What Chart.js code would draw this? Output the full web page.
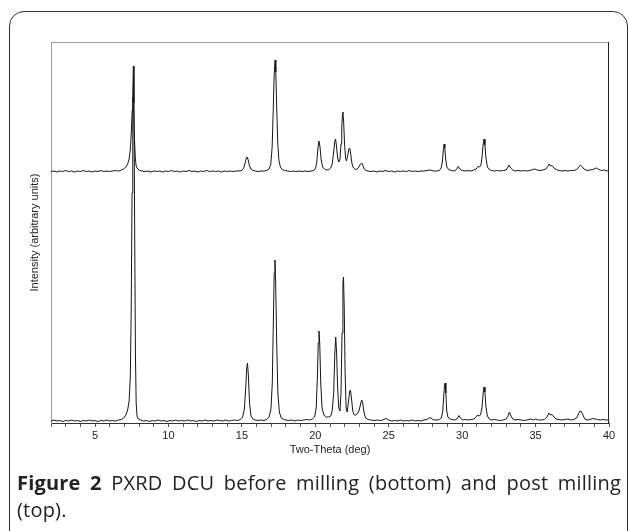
<!DOCTYPE html>
<html>
<head>
<meta charset="utf-8">
<script src="https://cdn.jsdelivr.net/npm/chart.js"></script>
<style>
  html, body { margin: 0; padding: 0; background: #fff; }
  body { width: 629px; height: 531px; position: relative; overflow: hidden; }
  #frame {
    position: absolute; left: 9px; top: 11px; width: 619px; height: 560px;
    box-sizing: border-box; border: 1.5px solid #333; border-radius: 15px;
  }
  #wrap { position: absolute; left: 0; top: 0; width: 629px; height: 470px; }
  #caption {
    position: absolute; left: 17px; top: 469px; width: 604px;
    font-family: "Open Sans", "Noto Sans", sans-serif; font-size: 20px; line-height: 27px;
    letter-spacing: 0.2px; color: #222;
  }
  #caption .l1 { text-align: justify; text-align-last: justify; white-space: nowrap; }
  #caption b { font-weight: 700; }
</style>
</head>
<body>
<div id="frame"></div>
<div id="wrap"><canvas id="pxrd" width="629" height="470"></canvas></div>
<div id="caption">
  <div class="l1"><b>Figure 2</b> PXRD DCU before milling (bottom) and post milling</div>
  <div>(top).</div>
</div>
<script>
// two-theta (deg) / intensity, before milling (bottom trace)
const beforeMilling = [
  [2.0,2],[2.2,3],[2.4,2],[2.6,2.5],[2.8,1.5],[3.0,2.5],[3.2,2],[3.4,3],[3.6,2],[3.8,2.5],
  [4.0,1.5],[4.2,2.5],[4.4,2],[4.6,3],[4.8,2],[5.0,2.5],[5.2,1.5],[5.4,2.5],[5.6,2],[5.8,3],
  [6.0,2],[6.2,2.5],[6.4,2],[6.6,3],[6.8,3.5],[6.95,5],[7.1,8],[7.22,13],[7.32,22],[7.4,45],
  [7.46,110],[7.52,230],[7.57,330],[7.61,357],[7.65,320],[7.7,190],[7.75,70],[7.8,20],[7.86,7],[7.95,4],
  [8.1,3],[8.3,2],[8.5,2.5],[8.7,1.5],[8.9,2.5],[9.1,2],[9.3,3],[9.5,2],[9.7,2.5],[9.9,1.5],
  [10.1,2.5],[10.3,2],[10.5,3],[10.7,2],[10.9,2.5],[11.1,2],[11.3,3],[11.5,2],[11.7,2.5],[11.9,1.5],
  [12.1,2.5],[12.3,2],[12.5,3],[12.7,2],[12.9,2.5],[13.1,2],[13.3,3],[13.5,2.5],[13.7,2],[13.9,3],
  [14.1,2],[14.3,2.5],[14.5,3],[14.7,2.5],[14.9,3.5],[15.05,6],[15.17,14],[15.26,35],[15.33,55],[15.38,60],
  [15.44,48],[15.52,20],[15.62,7],[15.75,4],[15.9,3],[16.1,2.5],[16.3,3],[16.5,2.5],[16.7,3.5],[16.85,6],
  [16.98,14],[17.07,40],[17.14,100],[17.2,150],[17.25,163],[17.3,140],[17.37,80],[17.45,30],[17.55,11],[17.68,5],
  [17.85,3.5],[18.0,3],[18.2,2.5],[18.4,3],[18.6,2],[18.8,3],[19.0,2.5],[19.2,3],[19.4,3.5],[19.6,3],
  [19.8,4],[19.95,6],[20.06,15],[20.14,45],[20.2,80],[20.25,92],[20.3,80],[20.37,40],[20.46,15],[20.58,8],
  [20.75,6],[20.9,6],[21.05,7],[21.15,12],[21.25,30],[21.33,70],[21.39,86],[21.45,70],[21.52,35],[21.6,15],
  [21.68,12],[21.75,30],[21.82,90],[21.88,140],[21.92,146],[21.97,115],[22.03,50],[22.1,15],[22.17,11],[22.25,20],
  [22.33,31],[22.39,33],[22.46,25],[22.55,12],[22.65,8],[22.75,8],[22.85,9],[22.97,12],[23.07,18],[23.15,23],
  [23.22,21],[23.3,12],[23.42,5],[23.6,3.5],[23.8,3],[24.0,2.5],[24.2,3],[24.4,2.5],[24.6,3],[24.8,4.5],
  [25.0,3],[25.2,2],[25.4,2.5],[25.6,2],[25.8,3],[26.0,2],[26.2,2.5],[26.4,2],[26.6,3],[26.8,2],
  [27.0,2.5],[27.2,2],[27.4,3],[27.6,3.5],[27.8,5.5],[27.95,4],[28.1,3],[28.3,3],[28.45,3.5],[28.58,5],
  [28.68,12],[28.75,28],[28.8,38],[28.84,40],[28.89,30],[28.95,12],[29.03,6],[29.15,4],[29.3,3.5],[29.5,3],
  [29.65,4],[29.78,7.5],[29.9,4.5],[30.05,3],[30.2,3.5],[30.4,3],[30.6,3.5],[30.8,4],[30.95,6],[31.05,8],
  [31.15,7],[31.25,8],[31.35,15],[31.43,30],[31.49,36],[31.55,31],[31.62,16],[31.72,7],[31.85,4],[32.0,3],
  [32.2,3.5],[32.4,3],[32.6,2.5],[32.8,3],[33.0,4],[33.12,7],[33.22,11],[33.32,7],[33.45,4],[33.6,3],
  [33.8,3.5],[34.0,3],[34.2,2.5],[34.4,3],[34.65,4],[34.85,3],[35.0,4],[35.2,3],[35.4,3],[35.6,3.5],
  [35.78,6],[35.9,10],[36.0,8],[36.12,8.5],[36.25,6],[36.4,4],[36.6,3.5],[36.8,3],[37.0,3.5],[37.2,4],
  [37.4,3],[37.6,3.5],[37.8,5],[37.92,9],[38.02,12],[38.12,11.5],[38.22,8],[38.35,4],[38.5,3],[38.7,3.5],
  [38.9,4.5],[39.05,4],[39.2,3.5],[39.4,3],[39.6,3.5],[39.8,3],[40.0,3]
];

// post milling (top trace), intensity above its own baseline
const postMilling = [
  [2.0,0.5],[2.2,1],[2.4,0],[2.6,1],[2.8,0.5],[3.0,1.5],[3.2,0.5],[3.4,1],[3.6,0],[3.8,1],
  [4.0,0.5],[4.2,1.5],[4.4,0.5],[4.6,1],[4.8,0],[5.0,1],[5.2,0.5],[5.4,1.5],[5.6,0.5],[5.8,1],
  [6.0,0.5],[6.2,1],[6.4,1.5],[6.6,1],[6.8,2],[6.95,3],[7.1,5],[7.22,8],[7.32,13],[7.4,22],
  [7.47,40],[7.53,62],[7.58,75],[7.63,65],[7.68,35],[7.74,14],[7.8,6],[7.9,3],[8.05,1.5],[8.2,1],
  [8.4,0.5],[8.6,1],[8.8,0],[9.0,1],[9.2,0.5],[9.4,1],[9.6,0],[9.8,1],[10.0,0.5],[10.2,1.5],
  [10.4,0.5],[10.6,1],[10.8,0],[11.0,1],[11.2,0.5],[11.4,1.5],[11.6,0.5],[11.8,1],[12.0,0],[12.2,1],
  [12.4,0.5],[12.6,1.5],[12.8,0.5],[13.0,1],[13.2,0.5],[13.4,1],[13.6,0],[13.8,1],[14.0,0.5],[14.2,1],
  [14.4,0.5],[14.6,1],[14.8,1],[15.0,1.5],[15.12,4],[15.22,9],[15.3,14],[15.36,15],[15.43,12],[15.52,6],
  [15.62,3],[15.75,1.5],[15.9,1],[16.1,0.5],[16.3,1],[16.5,1],[16.7,1.5],[16.85,3],[16.97,8],[17.06,25],
  [17.13,60],[17.2,98],[17.26,112],[17.31,100],[17.37,65],[17.44,30],[17.52,12],[17.62,5],[17.75,2.5],[17.9,1.5],
  [18.1,1],[18.3,0.5],[18.5,1],[18.7,0.5],[18.9,1],[19.1,0.5],[19.3,1],[19.5,0.5],[19.7,1],[19.9,1.5],
  [20.02,4],[20.1,10],[20.18,24],[20.25,31],[20.32,25],[20.4,12],[20.5,5],[20.62,3],[20.78,2],[20.92,2.5],
  [21.05,4],[21.15,8],[21.25,20],[21.33,31],[21.38,33],[21.44,26],[21.52,14],[21.6,10],[21.68,13],[21.75,28],
  [21.8,45],[21.85,58],[21.88,60],[21.93,50],[21.99,28],[22.06,14],[22.12,11],[22.2,16],[22.28,23],[22.34,24],
  [22.41,18],[22.5,8],[22.6,4],[22.72,2.5],[22.85,3],[22.97,5],[23.07,8],[23.15,9],[23.23,7],[23.33,3],
  [23.45,1.5],[23.6,1],[23.8,0.5],[24.0,1],[24.2,0],[24.4,1],[24.6,0.5],[24.8,1.5],[25.0,0.5],[25.2,1],
  [25.4,0],[25.6,1],[25.8,0.5],[26.0,1],[26.2,0.5],[26.4,1.5],[26.6,0.5],[26.8,1],[27.0,0.5],[27.2,1],
  [27.4,1],[27.6,1.5],[27.8,2],[27.95,1.5],[28.1,1],[28.3,1],[28.45,1.5],[28.57,4],[28.66,11],[28.72,22],
  [28.77,28],[28.82,24],[28.88,13],[28.96,5],[29.08,2.5],[29.25,1.5],[29.45,1],[29.62,2.5],[29.73,5.5],[29.85,3],
  [30.0,1.5],[30.2,1],[30.4,1.5],[30.6,1],[30.8,2],[30.95,3],[31.08,5.5],[31.18,5],[31.28,7],[31.36,16],
  [31.43,28],[31.49,33],[31.55,27],[31.62,14],[31.72,5],[31.85,2.5],[32.0,1.5],[32.2,1],[32.4,1.5],[32.6,1],
  [32.8,1.5],[33.0,2],[33.12,5],[33.2,7],[33.3,4],[33.45,2],[33.6,1],[33.8,1.5],[34.0,1],[34.2,1.5],
  [34.4,1],[34.6,1.5],[34.82,2.5],[34.95,3],[35.1,2],[35.3,1.5],[35.5,2],[35.7,3],[35.83,5.5],[35.92,8],
  [36.02,6],[36.12,6.5],[36.25,4],[36.4,2.5],[36.6,1.5],[36.8,1],[37.0,1.5],[37.2,1],[37.4,1.5],[37.6,1.5],
  [37.8,2.5],[37.95,5],[38.05,7],[38.15,5.5],[38.3,3],[38.5,1.5],[38.7,2],[38.9,2.5],[39.05,3.5],[39.15,4],
  [39.3,2.5],[39.5,1.5],[39.7,2],[39.85,1],[40.0,1.5]
];

// vertical shift of the top trace, same units as the intensities
const postOffset = 251;
const thetaRange = [2, 40];
const intensityRange = [0, 381];
const labelEvery = 5;

const axisFont = { family: "'Liberation Sans', Arial, sans-serif", size: 11 };

// top and right edges of the plot box
const boxLines = {
  id: "boxLines",
  afterDraw(chart) {
    const { ctx, chartArea: a } = chart;
    ctx.save();
    ctx.lineWidth = 1;
    ctx.strokeStyle = "#9a9a9a";
    ctx.beginPath();
    ctx.moveTo(a.left, a.top + 0.5);
    ctx.lineTo(a.right, a.top + 0.5);
    ctx.stroke();
    ctx.strokeStyle = "#222";
    ctx.beginPath();
    ctx.moveTo(a.right - 0.5, a.top);
    ctx.lineTo(a.right - 0.5, a.bottom);
    ctx.stroke();
    ctx.restore();
  },
};

const trace = (pts, shift) => pts.map(([x, y]) => ({ x, y: y + shift }));

new Chart(document.getElementById("pxrd"), {
  type: "line",
  data: {
    datasets: [
      { label: "before milling", data: trace(beforeMilling, 0) },
      { label: "post milling", data: trace(postMilling, postOffset) },
    ],
  },
  options: {
    responsive: false,
    animation: false,
    devicePixelRatio: 1,
    layout: { padding: { top: 42, right: 20, left: 0, bottom: 0 } },
    elements: {
      point: { radius: 0 },
      line: { borderColor: "#151515", borderWidth: 1, tension: 0, fill: false },
    },
    plugins: { legend: { display: false }, tooltip: { enabled: false } },
    scales: {
      x: {
        type: "linear",
        min: thetaRange[0],
        max: thetaRange[1],
        afterFit: (s) => { s.height = 47; },
        border: { color: "#333", width: 1 },
        grid: { drawOnChartArea: false, drawTicks: true, tickLength: 4, color: "#555" },
        ticks: {
          stepSize: 1,
          autoSkip: false,
          maxRotation: 0,
          padding: 2,
          color: "#222",
          font: axisFont,
          callback: (v) => (v % labelEvery === 0 ? String(v) : ""),
        },
        title: {
          display: true,
          text: "Two-Theta (deg)",
          color: "#222",
          font: axisFont,
          padding: { top: 0, bottom: 13 },
        },
      },
      y: {
        min: intensityRange[0],
        max: intensityRange[1],
        afterFit: (s) => { s.width = 51; },
        border: { color: "#9a9a9a", width: 1 },
        grid: { display: false },
        ticks: { display: false },
        title: {
          display: true,
          text: "Intensity (arbitrary units)",
          color: "#222",
          font: axisFont,
          padding: { top: 28, bottom: 0 },
        },
      },
    },
  },
  plugins: [boxLines],
});
</script>
</body>
</html>
